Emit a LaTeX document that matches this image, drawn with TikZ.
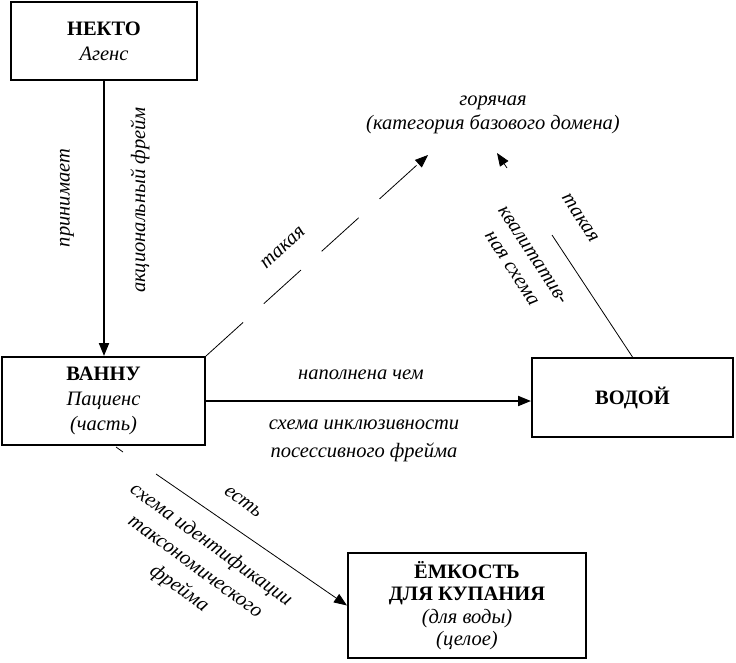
\documentclass[tikz,border=0pt]{standalone}
\usepackage{fontspec}
\setmainfont{Liberation Serif}
\usetikzlibrary{arrows.meta}
\begin{document}
\begin{tikzpicture}[x=1pt,y=-1pt,
  box/.style={draw, line width=2pt, align=center, inner sep=0pt, font=\fontsize{20.5}{25}\selectfont},
  lbl/.style={align=center, inner sep=0pt, font=\fontsize{20.5}{26}\selectfont\itshape},
  thickarrow/.style={line width=2pt, -{Triangle[length=13pt,width=10pt]}},
  thinline/.style={line width=0.8pt},
  thinarrow/.style={line width=0.8pt, -{Triangle[length=13pt,width=10pt]}}]
\useasboundingbox[fill=white] (0,0) rectangle (736,662);
% boxes
\node[box, minimum width=186, minimum height=78] (nekto) at (104,41) {\textbf{НЕКТО}\\\textit{Агенс}};
\node[box, minimum width=203, minimum height=88] (vannu) at (103.5,401) {\textbf{ВАННУ}\\\textit{Пациенс}\\\textit{(часть)}};
\node[box, minimum width=201, minimum height=79] (vodoi) at (632.5,397.5) {\textbf{ВОДОЙ}};
\node[box, minimum width=238, minimum height=105, font=\fontsize{20.5}{22.5}\selectfont] (emk) at (467,605.5) {\textbf{ЁМКОСТЬ}\\\textbf{ДЛЯ КУПАНИЯ}\\\textit{(для воды)}\\\textit{(целое)}};
\node[lbl, font=\fontsize{20.5}{24}\selectfont\itshape] (hot) at (493,115) {горячая\\(категория базового домена)};
% coordinates
\coordinate (tipA) at (428,155);
\coordinate (r1) at (552,235);
\coordinate (r2) at (507,168);
\coordinate (r3) at (497,153);
\coordinate (d0) at (116,447);
\coordinate (d1) at (123,452);
\coordinate (d2) at (156,474);
% connectors
\draw[thickarrow] (nekto.south) -- (nekto.south |- vannu.north);
\draw[thickarrow] (vannu.east) -- (vannu.east -| vodoi.west);
\draw[thinarrow, dash pattern=on 50pt off 28pt] (vannu.north east) -- (tipA);
\draw[thinline] (vodoi.north) -- (r1);
\draw[thinarrow] (r2) -- (r3);
\draw[thinline] (d0) -- (d1);
\draw[thinarrow] (d2) -- (emk.west);
% labels
\node[lbl, rotate=90] (lprin) at (67,198) {принимает};
\node[lbl, rotate=90] (lakc) at (140,200) {акциональный фрейм};
\node[lbl] (lnap) at (361,375) {наполнена чем};
\node[lbl, font=\fontsize{20.5}{28}\selectfont\itshape] (lsch) at (364,441) {схема инклюзивности\\посессивного фрейма};
\node[lbl, rotate=43] (ltak1) at (283,248) {такая};
\node[lbl, rotate=-57] (ltak2) at (580,218) {такая};
\node[lbl, rotate=-57, font=\fontsize{20.5}{25}\selectfont\itshape] (lkval) at (522,262) {квалитатив-\\ная схема};
\node[lbl, rotate=-37] (lest) at (243,502) {есть};
\node[lbl, rotate=-36, font=\fontsize{20.5}{27}\selectfont\itshape] (lid) at (195,567) {схема идентификации\\таксономического\\фрейма};
\end{tikzpicture}
\end{document}
